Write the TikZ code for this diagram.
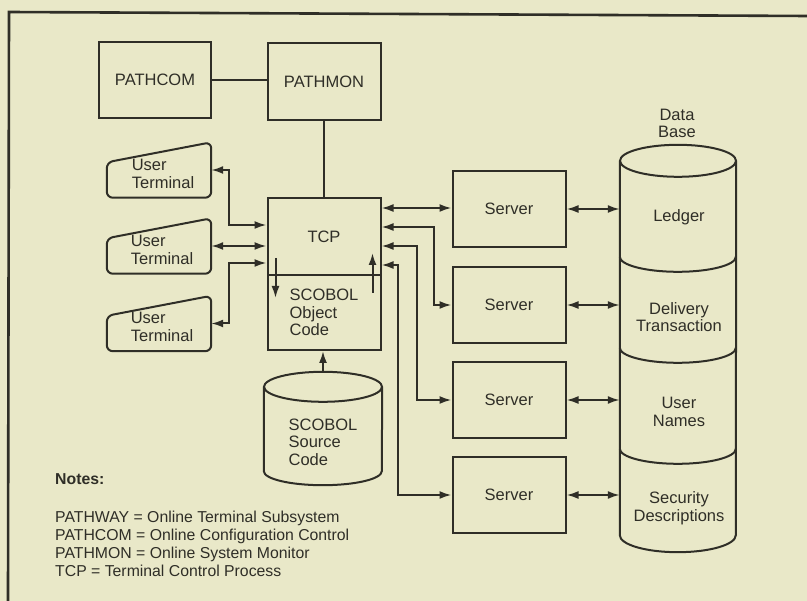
\documentclass[tikz,border=0pt]{standalone}
\usepackage{fontspec}
\setmainfont{Liberation Sans}
\usetikzlibrary{arrows.meta,calc}
\definecolor{paper}{HTML}{E9E8C8}
\definecolor{ink}{HTML}{2F2E27}
\newcommand\lblfont{\fontsize{16.5}{17.5}\selectfont}
\newcommand\notefont{\fontsize{15.8}{18}\selectfont}
\newcommand\termshape[1]{\draw[ink,line width=2pt,rounded corners=6pt] (#1.south west) -- ($(#1.north west)+(0,20)$) -- (#1.north east) -- (#1.south east) -- cycle;}
\begin{document}
\begin{tikzpicture}[x=1pt,y=-1pt,
  box/.style={draw=ink,line width=2pt,minimum width=113pt,minimum height=76pt,inner sep=0pt,font=\lblfont,text=ink,align=center},
  termbox/.style={minimum width=104pt,minimum height=55pt,inner sep=0pt},
  lbl/.style={font=\lblfont,text=ink,align=left,inner sep=0pt},
  clbl/.style={font=\lblfont,text=ink,align=center,inner sep=0pt},
  dbl/.style={draw=ink,line width=2pt,{Latex[length=12pt,width=8pt]}-{Latex[length=12pt,width=8pt]}},
  sgl/.style={draw=ink,line width=2pt,-{Latex[length=12pt,width=8pt]}},
  plain/.style={draw=ink,line width=2pt}]
\fill[paper] (0,0) rectangle (807,601);
\useasboundingbox (0,0) rectangle (807,601);
% frame
\draw[ink,line width=2.6pt] (8,601) -- (9,12) -- (807,16);
% top boxes
\node[box,minimum width=112pt] (pathcom) at (155,80) {PATHCOM};
\node[box,minimum height=77pt] (pathmon) at (324,81.5) {PATHMON};
% TCP / object code
\node[box,minimum height=77pt] (tcp) at (324,236.5) {TCP};
\node[box,minimum height=75pt,align=left] (obj) at (324,312.5) {SCOBOL\\Object\\Code};
% terminals
\node[termbox] (t1) at (159,170) {};
\node[termbox] (t2) at (159,246) {};
\node[termbox] (t3) at (159,323.5) {};
\termshape{t1}\termshape{t2}\termshape{t3}
\node[lbl] (t1l) at (163,174) {User\\Terminal};
\node[lbl] (t2l) at (162,250) {User\\Terminal};
\node[lbl] (t3l) at (162,327) {User\\Terminal};
% servers
\node[box] (s1) at (509,209) {Server};
\node[box] (s2) at (509,305) {Server};
\node[box] (s3) at (509,400) {Server};
\node[box] (s4) at (509,495) {Server};
% source cylinder
\node[minimum width=118pt,minimum height=113pt,inner sep=0pt] (src) at (323,428.5) {};
\draw[ink,line width=2pt] ($(src.north west)+(0,15)$) -- ($(src.south west)+(0,-14)$) arc[start angle=180,end angle=360,x radius=59pt,y radius=14pt] -- ($(src.north east)+(0,15)$);
\draw[ink,line width=2pt] ($(src.north)+(0,15)$) ellipse[x radius=59pt,y radius=15pt];
\node[lbl] (srcl) at (323,442) {SCOBOL\\Source\\Code};
% database cylinder
\node[minimum width=116pt,minimum height=376pt,inner sep=0pt] (db) at (678,349) {};
\draw[ink,line width=2pt] (db.north west) -- ($(db.south west)+(0,-2)$) arc[start angle=180,end angle=360,x radius=58pt,y radius=17pt] -- (db.north east);
\draw[ink,line width=2pt] (db.north) ellipse[x radius=58pt,y radius=16pt];
\foreach \d in {96,187,288}{
  \draw[ink,line width=2pt] ($(db.north west)+(0,\d)$) arc[start angle=180,end angle=360,x radius=58pt,y radius=15pt];
}
\node[clbl] (dbt) at (677,123.5) {Data\\Base};
\node[clbl] (led) at (679,217) {Ledger};
\node[clbl] (del) at (679,317) {Delivery\\Transaction};
\node[clbl] (usr) at (679,412) {User\\Names};
\node[clbl] (sec) at (679,508) {Security\\Descriptions};
% connectors
\draw[plain] (pathcom.east) -- (pathcom.east -| pathmon.west);
\draw[plain] (pathmon.south) -- (tcp.north);
\draw[dbl] (t1.east) -- ++(18,0) |- ([yshift=11.5pt]tcp.west);
\draw[dbl] (t2.east) -- (t2.east -| tcp.west);
\draw[dbl] (t3.east) -- ++(18,0) |- ([yshift=-26.5pt]tcp.west);
\draw[sgl] ($(tcp.south west)+(9,-18)$) -- ++(0,40);
\draw[sgl] ($(tcp.south east)+(-9,17)$) -- ++(0,-40);
\draw[sgl] (src.north) -- (src.north |- obj.south);
\draw[dbl] ([yshift=28.5pt]tcp.east) -- ([yshift=28.5pt]tcp.east -| s1.west);
\draw[dbl] ([yshift=9.5pt]tcp.east) -- ++(52,0) |- (s2.west);
\draw[dbl] ([yshift=-9.5pt]tcp.east) -- ++(35,0) |- (s3.west);
\draw[dbl] ([yshift=-28.5pt]tcp.east) -- ++(16,0) |- (s4.west);
\foreach \s in {s1,s2,s3,s4}{
  \draw[dbl] (\s.east) -- (\s.east -| db.west);
}
% notes
\node[anchor=west,inner sep=0pt,text=ink,font=\notefont\bfseries] (notes) at (55,479) {Notes:};
\node[anchor=west,inner sep=0pt,text=ink,font=\notefont,align=left] (notelist) at (55,544) {PATHWAY = Online Terminal Subsystem\\PATHCOM = Online Configuration Control\\PATHMON = Online System Monitor\\TCP = Terminal Control Process};
\end{tikzpicture}
\end{document}
